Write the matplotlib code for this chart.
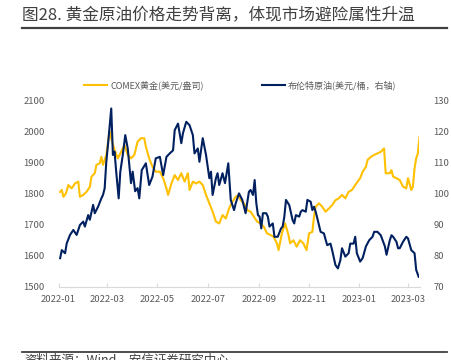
import matplotlib
matplotlib.use("Agg")
import matplotlib.pyplot as plt
import matplotlib.dates as mdates
import pandas as pd

plt.rcParams['font.family'] = ['Noto Sans CJK SC', 'DejaVu Sans']

title = "图28. 黄金原油价格走势背离，体现市场避险属性升温"
source = "资料来源：Wind，安信证券研究中心"
gold_label = "COMEX黄金(美元/盎司)"
brent_label = "布伦特原油(美元/桶，右轴)"

gold_dates = ["2022-01-03","2022-01-05","2022-01-07","2022-01-10","2022-01-13","2022-01-17","2022-01-21","2022-01-25","2022-01-27","2022-01-31",
"2022-02-04","2022-02-08","2022-02-10","2022-02-14","2022-02-16","2022-02-20","2022-02-22","2022-02-24","2022-02-28","2022-03-04",
"2022-03-06","2022-03-10","2022-03-14","2022-03-18","2022-03-22","2022-03-26","2022-03-30","2022-04-03","2022-04-07","2022-04-11",
"2022-04-15","2022-04-17","2022-04-21","2022-04-25","2022-04-29","2022-05-04","2022-05-08","2022-05-12","2022-05-14","2022-05-18",
"2022-05-22","2022-05-26","2022-05-30","2022-06-03","2022-06-07","2022-06-09","2022-06-13","2022-06-17","2022-06-21","2022-06-25",
"2022-06-29","2022-07-03","2022-07-07","2022-07-11","2022-07-15","2022-07-19","2022-07-23","2022-07-27","2022-07-31","2022-08-04",
"2022-08-08","2022-08-10","2022-08-14","2022-08-18","2022-08-22","2022-08-26","2022-08-30","2022-09-03","2022-09-07","2022-09-11",
"2022-09-15","2022-09-19","2022-09-23","2022-09-25","2022-09-29","2022-10-03","2022-10-07","2022-10-09","2022-10-13","2022-10-17",
"2022-10-21","2022-10-25","2022-10-29","2022-11-01","2022-11-05","2022-11-07","2022-11-09","2022-11-13","2022-11-17","2022-11-21",
"2022-11-25","2022-11-29","2022-12-03","2022-12-07","2022-12-11","2022-12-15","2022-12-19","2022-12-23","2022-12-27","2023-01-02",
"2023-01-05","2023-01-09","2023-01-11","2023-01-15","2023-01-19","2023-01-23","2023-01-27","2023-01-31","2023-02-02","2023-02-07",
"2023-02-09","2023-02-11","2023-02-15","2023-02-19","2023-02-23","2023-02-27","2023-03-01","2023-03-05","2023-03-07","2023-03-09",
"2023-03-11","2023-03-13","2023-03-15"]
gold_values = [1806,1812,1790,1801,1828,1817,1833,1839,1790,1796,
1806,1822,1855,1866,1893,1898,1919,1893,1925,2002,
1979,1941,1914,1935,1957,1925,1914,1925,1968,1979,
1979,1952,1914,1887,1871,1871,1850,1817,1796,1833,
1860,1844,1866,1839,1866,1812,1839,1833,1839,1828,
1796,1769,1742,1710,1704,1731,1720,1753,1774,1790,
1796,1779,1769,1747,1742,1726,1710,1704,1694,1672,
1667,1661,1640,1618,1672,1704,1667,1640,1650,1629,
1650,1640,1618,1672,1677,1726,1758,1769,1758,1742,
1752,1763,1779,1785,1796,1785,1806,1812,1828,1850,
1871,1887,1909,1919,1925,1930,1935,1946,1866,1866,
1876,1855,1850,1844,1823,1817,1850,1812,1823,1882,
1914,1930,1984]

brent_dates = ["2022-01-03","2022-01-05","2022-01-09","2022-01-11","2022-01-15","2022-01-19","2022-01-23","2022-01-27","2022-01-31","2022-02-02",
"2022-02-06","2022-02-08","2022-02-12","2022-02-14","2022-02-18","2022-02-22","2022-02-24","2022-02-26","2022-02-28","2022-03-02",
"2022-03-06","2022-03-08","2022-03-10","2022-03-12","2022-03-15","2022-03-17","2022-03-20","2022-03-23","2022-03-26","2022-03-30",
"2022-04-01","2022-04-04","2022-04-07","2022-04-09","2022-04-12","2022-04-17","2022-04-21","2022-04-25","2022-04-29","2022-05-04",
"2022-05-08","2022-05-12","2022-05-16","2022-05-20","2022-05-22","2022-05-26","2022-05-30","2022-06-01","2022-06-05","2022-06-09",
"2022-06-13","2022-06-15","2022-06-19","2022-06-21","2022-06-25","2022-06-29","2022-07-03","2022-07-05","2022-07-07","2022-07-11",
"2022-07-13","2022-07-15","2022-07-19","2022-07-22","2022-07-26","2022-07-29","2022-08-02","2022-08-04","2022-08-08","2022-08-12",
"2022-08-16","2022-08-20","2022-08-22","2022-08-25","2022-08-27","2022-08-29","2022-08-31","2022-09-02","2022-09-04","2022-09-06",
"2022-09-10","2022-09-12","2022-09-14","2022-09-18","2022-09-20","2022-09-24","2022-09-28","2022-09-30","2022-10-02","2022-10-04",
"2022-10-08","2022-10-12","2022-10-14","2022-10-16","2022-10-20","2022-10-22","2022-10-24","2022-10-28","2022-10-30","2022-11-03",
"2022-11-05","2022-11-07","2022-11-09","2022-11-11","2022-11-15","2022-11-19","2022-11-23","2022-11-27","2022-11-29","2022-12-03",
"2022-12-06","2022-12-09","2022-12-11","2022-12-15","2022-12-19","2022-12-21","2022-12-25","2022-12-27","2022-12-29","2023-01-02",
"2023-01-05","2023-01-09","2023-01-13","2023-01-17","2023-01-19","2023-01-23","2023-01-27","2023-02-01","2023-02-03","2023-02-07",
"2023-02-09","2023-02-11","2023-02-15","2023-02-17","2023-02-19","2023-02-23","2023-02-27","2023-03-01","2023-03-05","2023-03-07",
"2023-03-09","2023-03-11","2023-03-14"]
brent_values = [79.2,81.8,80.8,84.0,86.7,88.3,86.7,89.9,91.0,89.4,
93.1,91.6,96.4,93.7,95.8,98.5,99.6,101.7,110.3,115.7,
127.5,112.5,113.6,107.1,98.5,107.1,112.5,118.9,114.6,103.4,
107.1,100.8,101.8,98.5,107.6,109.8,102.8,105.5,111.4,111.9,
106.0,111.9,113.0,114.0,120.5,122.6,116.3,119.5,123.2,122.1,
118.9,113.0,114.6,110.3,117.9,112.5,105.0,107.1,99.6,105.0,
106.6,102.8,106.6,103.4,109.8,98.0,94.7,96.9,100.1,98.0,
93.7,100.6,101.2,99.6,104.4,96.9,93.1,92.6,88.8,93.7,
93.7,92.6,89.4,90.4,86.1,86.1,88.8,89.4,92.6,98.0,
96.3,91.5,90.4,93.1,92.6,94.2,94.7,94.2,98.0,97.4,
94.7,95.8,94.2,92.1,87.7,87.2,83.4,83.9,81.8,77.0,
75.9,78.6,82.4,79.7,80.8,83.9,83.9,86.1,80.8,78.1,
79.2,83.0,85.0,86.1,87.7,87.7,86.6,83.0,80.3,85.0,
86.6,86.1,84.5,82.4,82.4,84.5,86.1,85.6,81.8,81.3,
80.8,75.4,73.2]

tick_dates = ["2022-01-01","2022-03-01","2022-05-01","2022-07-01","2022-09-01","2022-11-01","2023-01-01","2023-03-01"]
left_ticks = [1500, 1600, 1700, 1800, 1900, 2000, 2100]
right_ticks = [70, 80, 90, 100, 110, 120, 130]

W, H = 452, 360
fig = plt.figure(figsize=(W/100, H/100), dpi=100)
fig.patch.set_facecolor('white')

gold_color = '#FFC000'
brent_color = '#002060'
tick_color = '#595959'
axis_color = '#D9D9D9'

ax = fig.add_axes([58.5/W, 1-286.7/H, (419.5-58.5)/W, (286.7-100.7)/H])
ax2 = ax.twinx()

gd = pd.to_datetime(gold_dates)
bd = pd.to_datetime(brent_dates)
l1, = ax.plot(gd, gold_values, color=gold_color, lw=1.5, label=gold_label, zorder=2)
l2, = ax2.plot(bd, brent_values, color=brent_color, lw=1.5, label=brent_label, zorder=3)

ax.set_xlim(pd.Timestamp("2022-01-01"), pd.Timestamp("2023-03-15"))
ax.set_ylim(1500, 2100)
ax2.set_ylim(70, 130)
ax.set_yticks(left_ticks)
ax2.set_yticks(right_ticks)
ax.set_xticks(pd.to_datetime(tick_dates))
ax.xaxis.set_major_formatter(mdates.DateFormatter('%Y-%m'))

for a in (ax, ax2):
    for s in ['top', 'right', 'left', 'bottom']:
        a.spines[s].set_visible(False)
ax.spines['bottom'].set_visible(True)
ax.spines['bottom'].set_color(axis_color)
ax.spines['bottom'].set_linewidth(0.8)

ax.tick_params(axis='x', direction='in', length=3, color=axis_color, labelsize=6.8,
               labelcolor=tick_color, pad=6)
ax.tick_params(axis='y', length=0, labelsize=6.8, labelcolor=tick_color, pad=10)
ax2.tick_params(axis='y', length=0, labelsize=6.8, labelcolor=tick_color, pad=10)
ax.set_facecolor('none')

# legend
leg1 = fig.legend([l1], [gold_label], loc='center left', bbox_to_anchor=(84/W, 1-85/H),
                  frameon=False, fontsize=6.5, handlelength=2.6, handletextpad=0.3,
                  borderaxespad=0, borderpad=0)
for t in leg1.get_texts():
    t.set_color(tick_color)
leg2 = fig.legend([l2], [brent_label], loc='center left', bbox_to_anchor=(262/W, 1-85/H),
                  frameon=False, fontsize=6.5, handlelength=2.6, handletextpad=0.3,
                  borderaxespad=0, borderpad=0)
for t in leg2.get_texts():
    t.set_color(tick_color)

# title and rules
fig.text(22/W, 1-16/H, title, fontsize=12, color='#404040', va='center', ha='left',
         fontweight='medium')
fig.add_artist(plt.Line2D([22/W, 447/W], [1-28/H, 1-28/H], color='#404040', lw=1.6))
fig.add_artist(plt.Line2D([22/W, 447/W], [1-351.5/H, 1-351.5/H], color='#404040', lw=1.3))
fig.text(24/W, 1-353.5/H, source, fontsize=9, color='#404040', va='top', ha='left',
         style='italic')

fig.savefig('out.png', dpi=100, facecolor='white')
